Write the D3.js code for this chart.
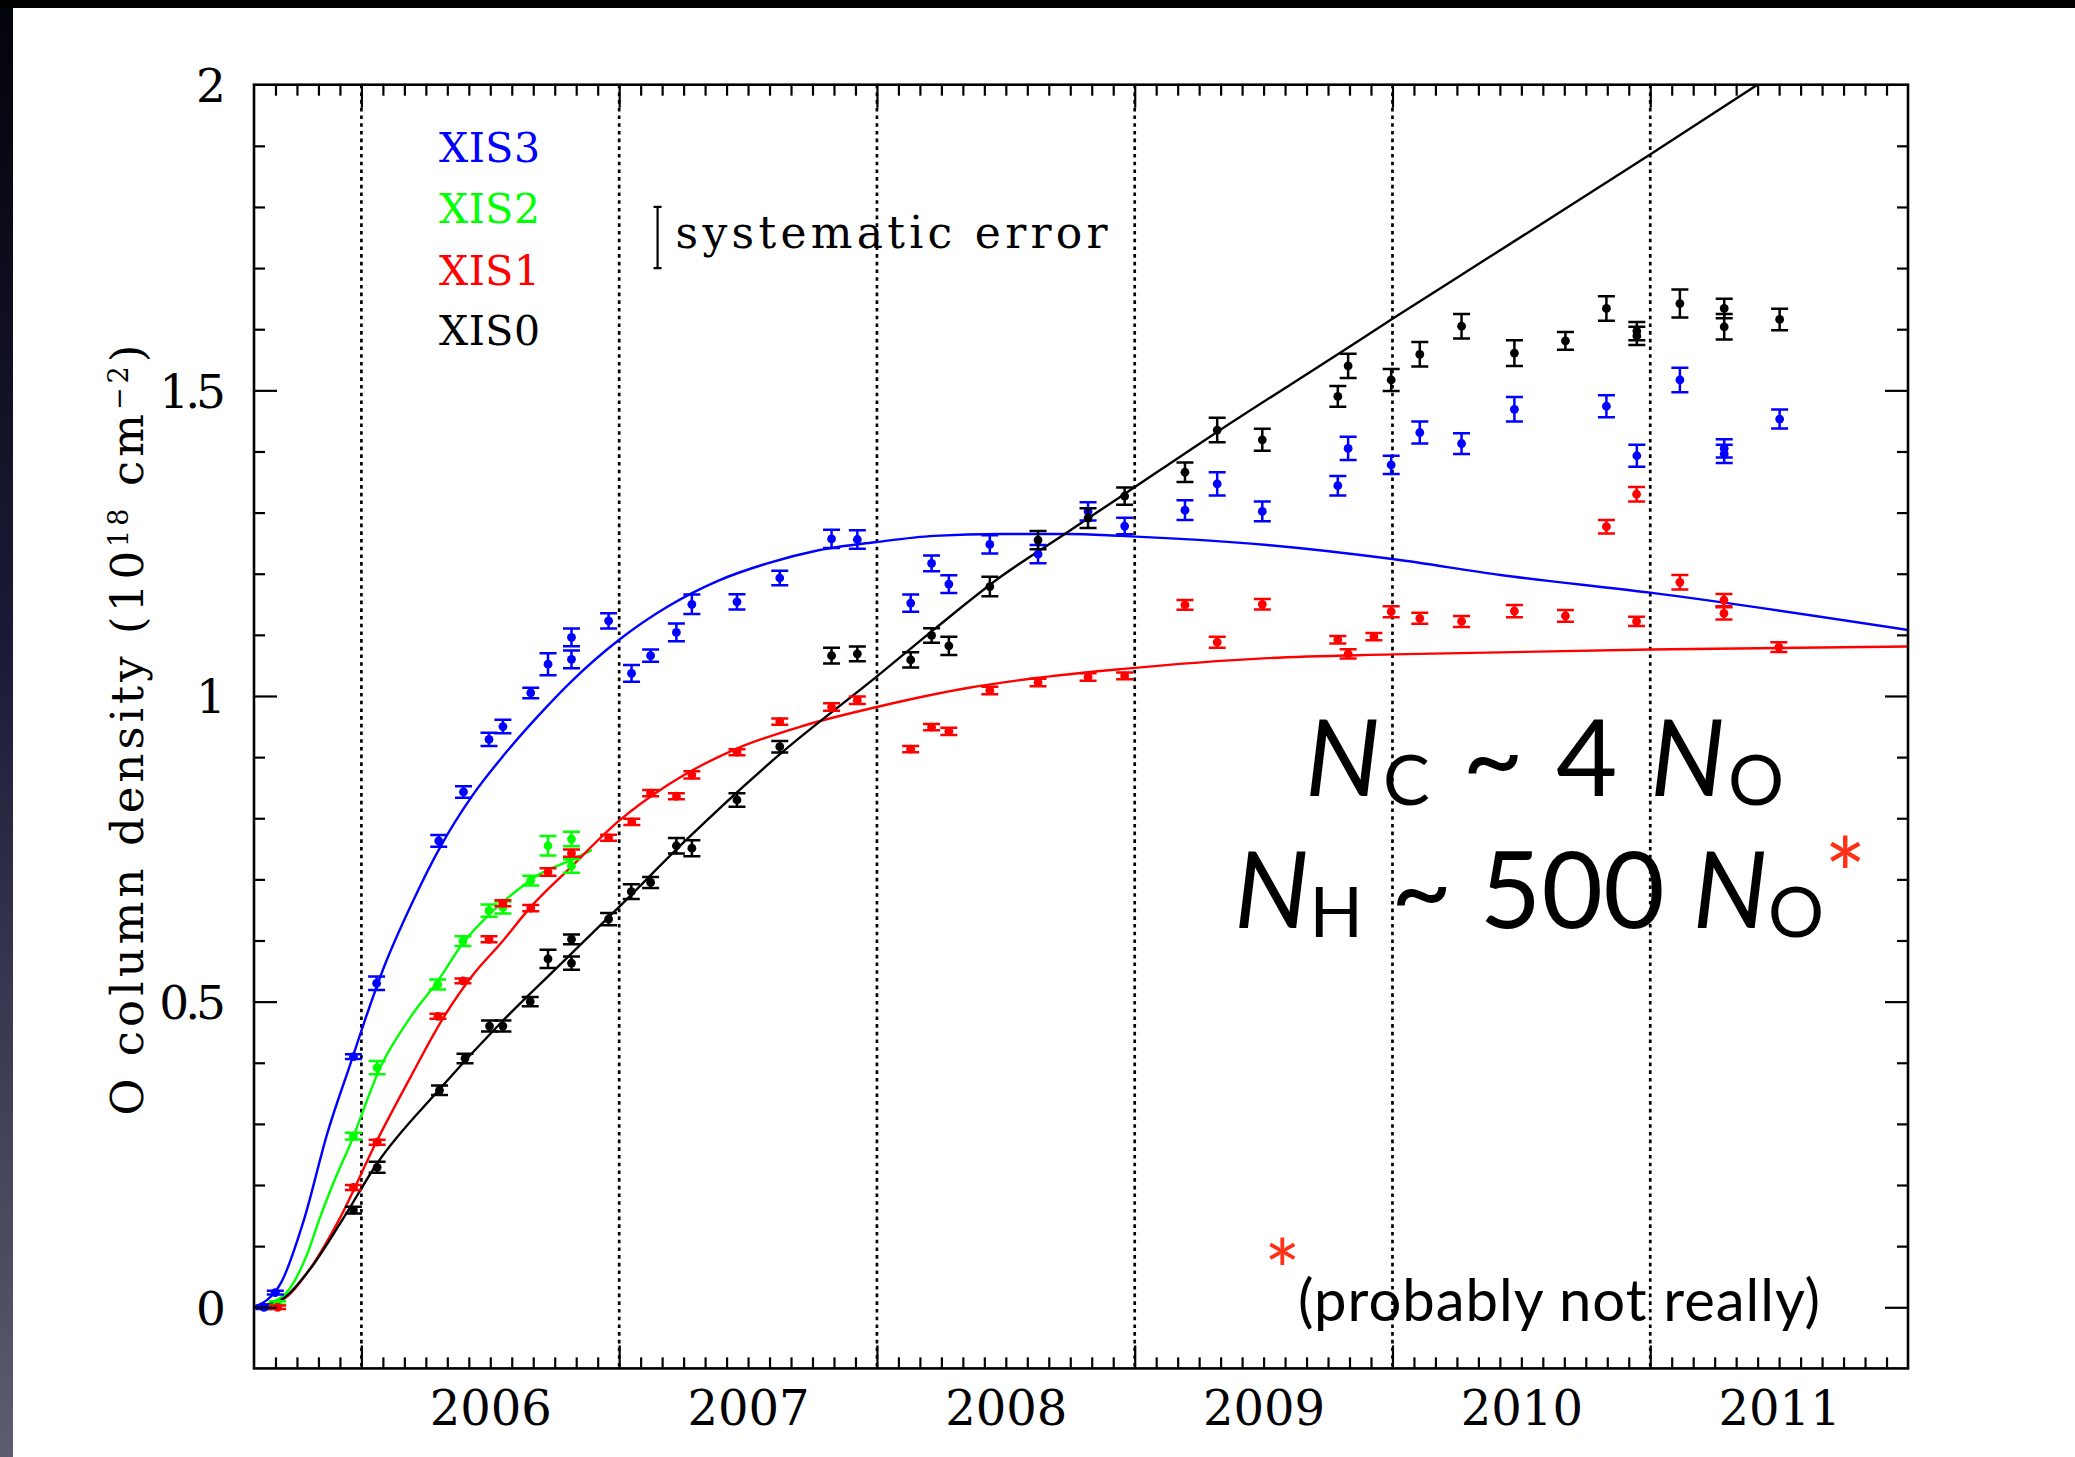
<!DOCTYPE html>
<html><head><meta charset="utf-8">
<script src="https://cdn.jsdelivr.net/npm/d3@7"></script>
<style>
html,body{margin:0;padding:0;background:#000;}
svg{display:block;}
</style></head><body>
<svg id="chart" width="2075" height="1457"></svg>
<script>
// ---------------- DATA ----------------
const yearLabels = ["2006","2007","2008","2009","2010","2011"];
const yLabels = ["0","0.5","1","1.5","2"];
const yLabelVals = [0, 0.5, 1, 1.5, 2];

// XIS3 (blue) measurements
const xis3Year = [2005.622,2005.666,2005.969,2006.059,2006.300,2006.396,2006.495,2006.549,2006.657,2006.724,2006.815,2006.815,2006.959,2007.048,2007.122,2007.222,2007.282,2007.457,2007.623,2007.824,2007.924,2008.131,2008.212,2008.279,2008.438,2008.625,2008.819,2008.961,2009.195,2009.320,2009.495,2009.788,2009.828,2009.995,2010.106,2010.268,2010.473,2010.830,2010.948,2011.115,2011.287,2011.287,2011.502];
const xis3Val  = [0.000,0.024,0.410,0.530,0.763,0.843,0.929,0.950,1.005,1.052,1.096,1.060,1.123,1.037,1.066,1.104,1.150,1.154,1.193,1.257,1.256,1.152,1.217,1.183,1.248,1.232,1.302,1.278,1.304,1.347,1.302,1.344,1.405,1.378,1.431,1.413,1.469,1.474,1.393,1.517,1.405,1.396,1.453];
const xis3Err  = [0.003,0.003,0.004,0.011,0.0095,0.0095,0.011,0.011,0.0085,0.018,0.0145,0.0145,0.0125,0.0136,0.010,0.0145,0.016,0.0125,0.012,0.015,0.015,0.014,0.013,0.0145,0.015,0.015,0.015,0.0136,0.016,0.019,0.016,0.016,0.019,0.015,0.018,0.017,0.020,0.018,0.018,0.020,0.015,0.015,0.0155];

// XIS2 (green) measurements
const xis2Year = [2005.675,2005.969,2006.061,2006.296,2006.394,2006.495,2006.549,2006.657,2006.724,2006.815,2006.815];
const xis2Val  = [0.007,0.280,0.392,0.528,0.599,0.649,0.654,0.698,0.755,0.766,0.722];
const xis2Err  = [0.003,0.0055,0.011,0.008,0.008,0.010,0.010,0.008,0.016,0.012,0.011];

// XIS1 (red) measurements
const xis1Year = [2005.675,2005.969,2006.061,2006.297,2006.394,2006.495,2006.549,2006.657,2006.724,2006.815,2006.959,2007.049,2007.122,2007.222,2007.282,2007.457,2007.623,2007.824,2007.924,2008.131,2008.212,2008.279,2008.438,2008.625,2008.819,2008.961,2009.195,2009.320,2009.495,2009.788,2009.828,2009.928,2009.995,2010.106,2010.268,2010.473,2010.671,2010.830,2010.947,2010.947,2011.115,2011.286,2011.286,2011.499];
const xis1Val  = [0.000,0.196,0.270,0.476,0.534,0.602,0.661,0.653,0.712,0.743,0.768,0.794,0.841,0.836,0.871,0.908,0.958,0.982,0.993,0.913,0.949,0.942,1.009,1.022,1.031,1.033,1.149,1.088,1.150,1.092,1.069,1.097,1.138,1.127,1.122,1.139,1.131,1.277,1.330,1.122,1.186,1.157,1.135,1.080];
const xis1Err  = [0.003,0.004,0.004,0.004,0.004,0.005,0.005,0.005,0.006,0.006,0.005,0.005,0.005,0.005,0.006,0.005,0.005,0.006,0.006,0.005,0.005,0.006,0.006,0.006,0.006,0.0055,0.008,0.009,0.0085,0.006,0.0075,0.006,0.009,0.009,0.009,0.010,0.0095,0.011,0.012,0.0075,0.012,0.010,0.010,0.008];

// XIS0 (black) measurements
const xis0Year = [2005.969,2006.061,2006.303,2006.402,2006.497,2006.549,2006.655,2006.724,2006.815,2006.815,2006.959,2007.047,2007.122,2007.222,2007.282,2007.457,2007.623,2007.824,2007.924,2008.131,2008.212,2008.279,2008.438,2008.625,2008.819,2008.961,2009.195,2009.320,2009.495,2009.788,2009.828,2009.995,2010.106,2010.268,2010.473,2010.671,2010.830,2010.948,2010.948,2011.115,2011.287,2011.287,2011.502];
const xis0Val  = [0.159,0.229,0.355,0.407,0.460,0.460,0.500,0.570,0.563,0.602,0.635,0.680,0.695,0.755,0.751,0.830,0.917,1.066,1.069,1.059,1.099,1.082,1.179,1.255,1.291,1.327,1.366,1.435,1.419,1.490,1.540,1.517,1.559,1.605,1.561,1.581,1.634,1.597,1.589,1.642,1.634,1.604,1.616];
const xis0Err  = [0.0055,0.009,0.0077,0.0077,0.009,0.009,0.0075,0.015,0.011,0.008,0.010,0.012,0.009,0.0125,0.013,0.011,0.0095,0.013,0.012,0.0125,0.012,0.015,0.016,0.015,0.016,0.014,0.016,0.020,0.018,0.017,0.020,0.018,0.020,0.020,0.021,0.0145,0.020,0.015,0.015,0.023,0.016,0.021,0.0175];

// model curves
const xis3FitYear = [2005.583,2005.688,2005.777,2005.868,2005.958,2006.023,2006.088,2006.194,2006.310,2006.427,2006.556,2006.685,2006.815,2007.0,2007.187,2007.381,2007.575,2007.769,2008.0,2008.222,2008.480,2008.739,2008.945,2009.514,2010.0,2010.419,2011.0,2012.0];
const xis3FitVal  = [0,0.040,0.143,0.285,0.399,0.481,0.557,0.659,0.756,0.835,0.905,0.967,1.024,1.092,1.146,1.188,1.217,1.238,1.252,1.262,1.265,1.265,1.262,1.247,1.224,1.198,1.169,1.108];
const xis2FitYear = [2005.583,2005.692,2005.796,2005.836,2005.891,2005.958,2006.075,2006.191,2006.295,2006.398,2006.502,2006.607,2006.685,2006.815,2006.895];
const xis2FitVal  = [0,0.017,0.094,0.143,0.203,0.268,0.394,0.475,0.533,0.598,0.645,0.683,0.707,0.732,0.748];
const xis1FitYear = [2005.583,2005.692,2005.796,2005.913,2006.062,2006.191,2006.320,2006.437,2006.540,2006.657,2006.815,2007.0,2007.187,2007.445,2007.704,2008.0,2008.351,2008.609,2008.945,2009.514,2010.0,2011.0,2012.0];
const xis1FitVal  = [0,0.012,0.060,0.143,0.274,0.377,0.475,0.546,0.595,0.655,0.721,0.796,0.854,0.912,0.950,0.982,1.013,1.029,1.044,1.062,1.068,1.076,1.081];
const xis0FitYear = [2005.583,2005.692,2005.796,2005.926,2006.062,2006.295,2006.540,2006.750,2007.0,2007.254,2007.627,2008.0,2008.222,2008.480,2008.739,2008.945,2009.320,2009.773,2010.0,2010.376,2011.004,2011.416];
const xis0FitVal  = [0,0.013,0.060,0.143,0.236,0.353,0.465,0.552,0.655,0.762,0.906,1.032,1.109,1.195,1.268,1.326,1.432,1.555,1.617,1.718,1.887,2.0];

// systematic error annotation (value units)
const sysErrYear = 2007.149, sysErrVal = 1.750, sysErrSize = 0.05;

// ---------------- DRAWING ----------------
const W = 2075, H = 1457;
const svg = d3.select("#chart");
const defs = svg.append("defs");
const grad = defs.append("linearGradient").attr("id","slideGrad")
  .attr("x1",0).attr("y1",0).attr("x2",0).attr("y2",1);
grad.append("stop").attr("offset","0%").attr("stop-color","#03030b");
grad.append("stop").attr("offset","45%").attr("stop-color","#1b1b36");
grad.append("stop").attr("offset","100%").attr("stop-color","#5d5d70");
svg.append("rect").attr("width",W).attr("height",H).attr("fill","url(#slideGrad)");
svg.append("rect").attr("width",W).attr("height",8).attr("fill","#000");
svg.append("rect").attr("x",13).attr("y",8).attr("width",W-13).attr("height",H-8).attr("fill","#fff");

const L = 254, R = 1908, T = 84.7, B = 1368.4;
const x = d3.scaleLinear().domain([2005 + 7/12, 2012]).range([L, R]);
const y = d3.scaleLinear().domain([-0.1, 2]).range([B, T]);

defs.append("clipPath").attr("id","plotClip").append("rect")
  .attr("x",L).attr("y",T).attr("width",R-L).attr("height",B-T);

// year boundary dotted lines
const yearBounds = yearLabels.map(s => +s);
svg.append("g").selectAll("line").data(yearBounds).join("line")
  .attr("x1",d=>x(d)).attr("x2",d=>x(d)).attr("y1",T).attr("y2",B)
  .attr("stroke","#000").attr("stroke-width",2.7).attr("stroke-dasharray","3.6 4.1");

const series = [
  {color:"#0000ff", yr:xis3Year, v:xis3Val, e:xis3Err, fy:xis3FitYear, fv:xis3FitVal},
  {color:"#00ff00", yr:xis2Year, v:xis2Val, e:xis2Err, fy:xis2FitYear, fv:xis2FitVal},
  {color:"#ff0000", yr:xis1Year, v:xis1Val, e:xis1Err, fy:xis1FitYear, fv:xis1FitVal},
  {color:"#000000", yr:xis0Year, v:xis0Val, e:xis0Err, fy:xis0FitYear, fv:xis0FitVal}
];

const line = d3.line().x(d=>x(d[0])).y(d=>y(d[1])).curve(d3.curveMonotoneX);
const curves = svg.append("g").attr("clip-path","url(#plotClip)");
series.forEach(s => {
  curves.append("path").datum(d3.zip(s.fy, s.fv)).attr("d",line)
    .attr("fill","none").attr("stroke",s.color).attr("stroke-width",2.4);
});

const capW = 8.5;
series.forEach(s => {
  const pts = d3.zip(s.yr, s.v, s.e);
  const g = svg.append("g");
  g.selectAll("path").data(pts).join("path")
    .attr("d", d => {
      const px = x(d[0]), lo = y(d[1]-d[2]), hi = y(d[1]+d[2]);
      return `M${px},${lo}V${hi}M${px-capW},${hi}h${2*capW}M${px-capW},${lo}h${2*capW}`;
    })
    .attr("fill","none").attr("stroke",s.color).attr("stroke-width",2.5);
  g.selectAll("circle").data(pts).join("circle")
    .attr("cx",d=>x(d[0])).attr("cy",d=>y(d[1])).attr("r",4.4).attr("fill",s.color);
});

// axes ticks (inward)
const monthTicks = d3.range(8, 84).filter(k => k % 12 !== 0).map(k => 2005 + k/12);
const yMinor = d3.range(1, 20).filter(k => k % 5 !== 0).map(k => k/10);
const yMajor = [0, 0.5, 1, 1.5];
function tickAxis(axis, transform){
  const g = svg.append("g").attr("transform",transform).call(axis.tickFormat(""));
  g.select(".domain").remove();
  g.selectAll("line").attr("stroke","#000").attr("stroke-width",2.2);
}
tickAxis(d3.axisBottom(x).tickValues(monthTicks).tickSize(-11), `translate(0,${B})`);
tickAxis(d3.axisBottom(x).tickValues(yearBounds).tickSize(-23), `translate(0,${B})`);
tickAxis(d3.axisTop(x).tickValues(monthTicks).tickSize(-11), `translate(0,${T})`);
tickAxis(d3.axisTop(x).tickValues(yearBounds).tickSize(-23), `translate(0,${T})`);
tickAxis(d3.axisLeft(y).tickValues(yMinor).tickSize(-11), `translate(${L},0)`);
tickAxis(d3.axisLeft(y).tickValues(yMajor).tickSize(-23), `translate(${L},0)`);
tickAxis(d3.axisRight(y).tickValues(yMinor).tickSize(-11), `translate(${R},0)`);
tickAxis(d3.axisRight(y).tickValues(yMajor).tickSize(-23), `translate(${R},0)`);

svg.append("rect").attr("x",L).attr("y",T).attr("width",R-L).attr("height",B-T)
  .attr("fill","none").attr("stroke","#000").attr("stroke-width",2.6);

// tick labels
const serif = "DejaVu Serif";
const xl = svg.append("g").attr("transform",`translate(0,${B})`)
  .call(d3.axisBottom(x).tickValues(yearLabels.map(s=>+s+0.5)).tickSize(0)
    .tickFormat((d,i)=>yearLabels[i]));
xl.select(".domain").remove();
xl.selectAll("text").attr("y",57).attr("dy",0).attr("font-family",serif)
  .attr("font-size",48).attr("fill","#000");

const yl = svg.append("g").attr("transform",`translate(${L},0)`)
  .call(d3.axisLeft(y).tickValues(yLabelVals).tickSize(0).tickPadding(32)
    .tickFormat((d,i)=>yLabels[i]));
yl.select(".domain").remove();
yl.selectAll("text").attr("dy","0.36em").attr("font-family",serif)
  .attr("font-size",47).attr("fill","#000").attr("letter-spacing",-4);

function fitWidth(sel, target){
  const node = sel.node();
  const w = node.getComputedTextLength();
  const n = node.getNumberOfChars();
  if (n > 1) sel.attr("letter-spacing", ((target - w)/(n - 1)).toFixed(2));
}

// y axis title
const yt = svg.append("text").attr("transform","translate(143,728) rotate(-90)")
  .attr("text-anchor","middle").attr("font-family",serif).attr("font-size",45).attr("fill","#000");
yt.append("tspan").text("O column density (10");
yt.append("tspan").attr("font-size",27).attr("dy",-15).text("18");
yt.append("tspan").attr("dy",15).text(" cm");
yt.append("tspan").attr("font-size",27).attr("dy",-15).text("\u22122");
yt.append("tspan").attr("dy",15).text(")");
fitWidth(yt, 771);

// legend
const legendNames = ["XIS3","XIS2","XIS1","XIS0"];
const legendColors = ["#0000ff","#00ff00","#ff0000","#000000"];
const legendBase = [162, 223, 285, 345];
legendNames.forEach((nm,i) => {
  const t = svg.append("text").attr("x",439).attr("y",legendBase[i])
    .attr("font-family",serif).attr("font-size",41).attr("fill",legendColors[i]).text(nm);
  fitWidth(t, 101);
});

// systematic error bar
{
  const px = x(sysErrYear), lo = y(sysErrVal - sysErrSize), hi = y(sysErrVal + sysErrSize);
  svg.append("path").attr("d",`M${px},${lo}V${hi}M${px-4},${hi}h8M${px-4},${lo}h8`)
    .attr("fill","none").attr("stroke","#000").attr("stroke-width",2.2);
  const t = svg.append("text").attr("x",px+18).attr("y",248).attr("font-family",serif)
    .attr("font-size",44).attr("fill","#000").text("systematic error");
  fitWidth(t, 432);
}

// big annotation text
const sans = "Lato";
const red = "#ff3016";
function bigLine(xp, yp, parts, target){
  const t = svg.append("text").attr("x",xp).attr("y",yp).attr("font-family",sans)
    .attr("font-size",106).attr("fill","#000");
  parts.forEach(p => {
    const ts = t.append("tspan").text(p.t);
    if (p.it) ts.attr("font-style","italic");
    if (p.sub) ts.attr("font-size",70).attr("dy",9);
    if (p.up) ts.attr("dy",-9);
  });
  fitWidth(t, target);
  return t;
}
bigLine(1305, 796, [{t:"N",it:1},{t:"C",sub:1},{t:" ~ 4 ",up:1},{t:"N",it:1},{t:"O",sub:1}], 479);
bigLine(1234, 928, [{t:"N",it:1},{t:"H",sub:1},{t:" ~ 500 ",up:1},{t:"N",it:1},{t:"O",sub:1}], 590);
svg.append("text").attr("x",1824).attr("y",912).attr("font-family",sans)
  .attr("font-size",100).attr("fill",red).text("*");
svg.append("text").attr("x",1264).attr("y",1302).attr("font-family",sans)
  .attr("font-size",86).attr("fill",red).text("*");
{
  const t = svg.append("text").attr("x",1298).attr("y",1321).attr("font-family",sans)
    .attr("font-size",58).attr("fill","#000").text("(probably not really)");
  fitWidth(t, 522);
}
</script>
</body></html>
